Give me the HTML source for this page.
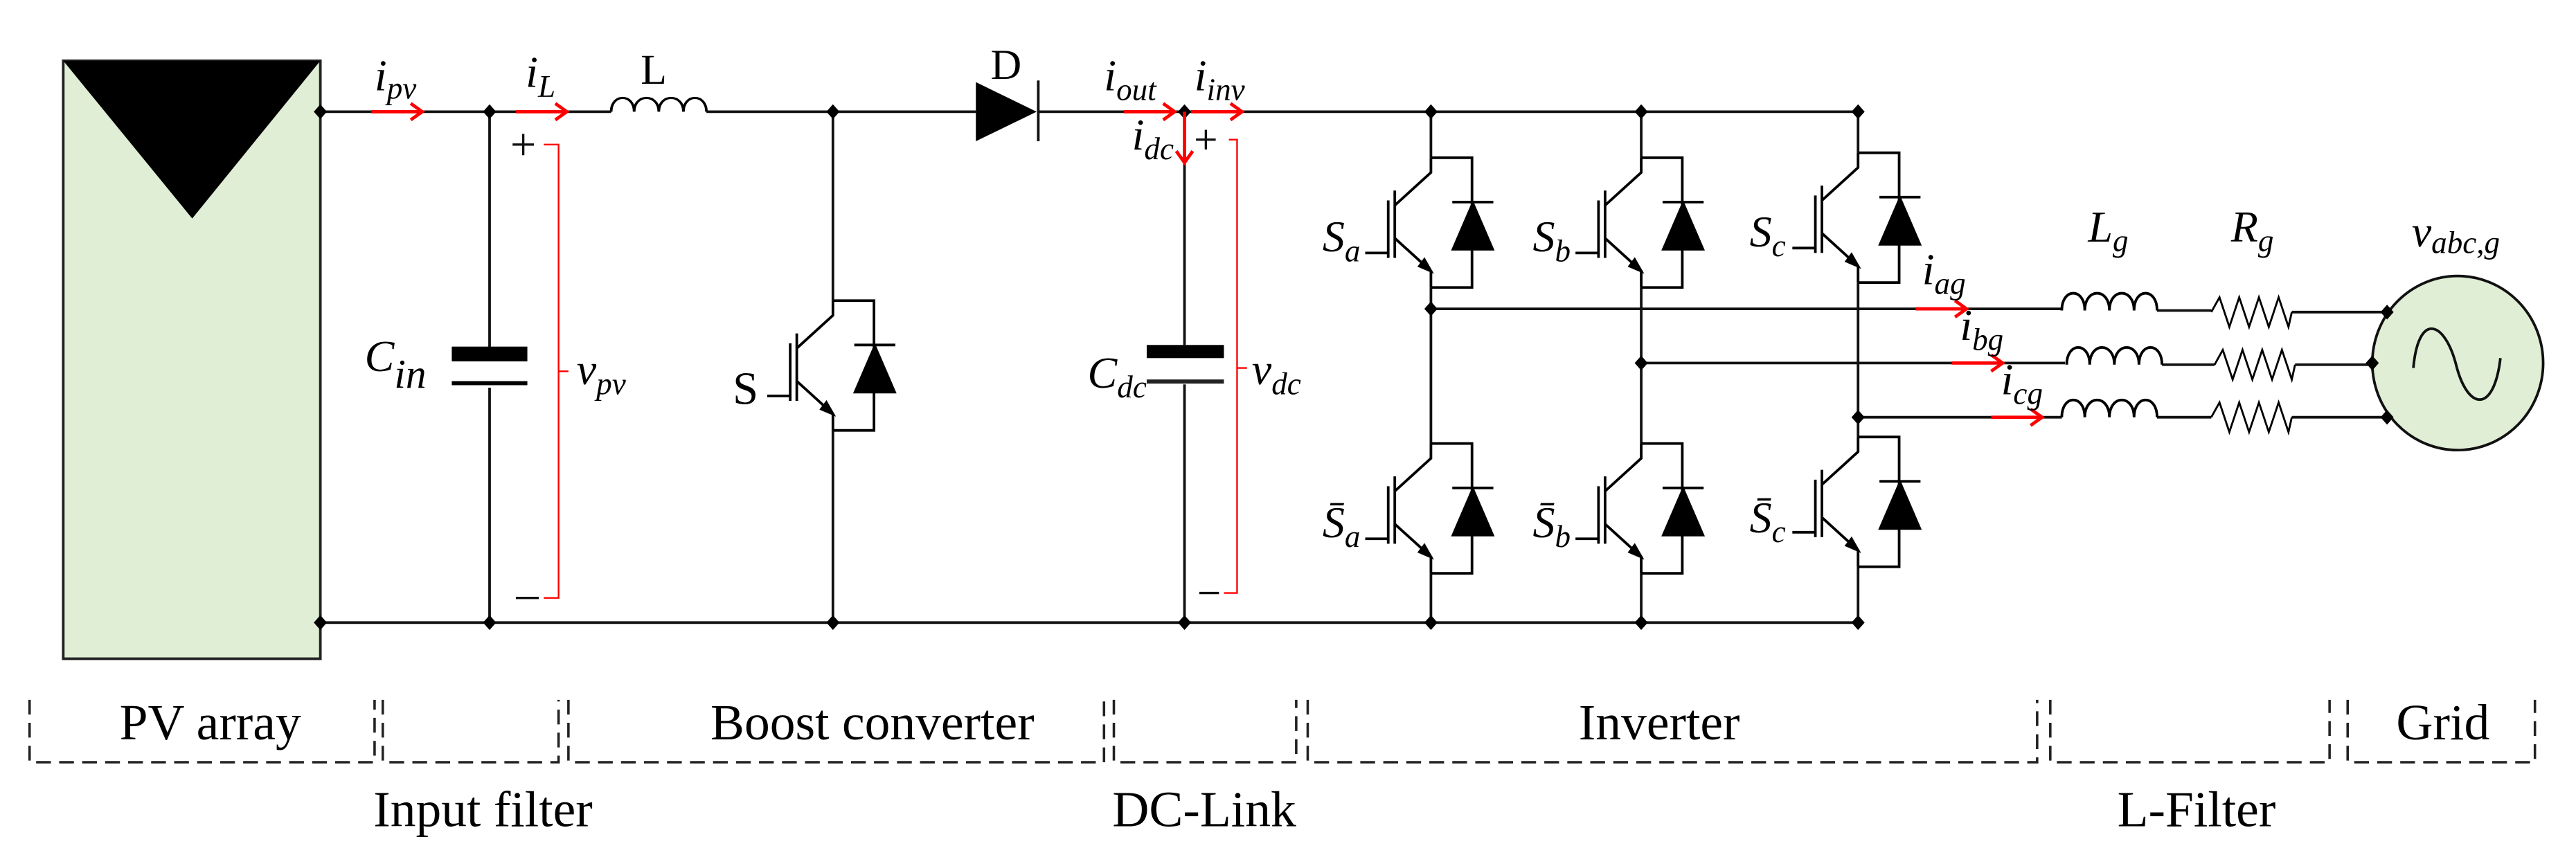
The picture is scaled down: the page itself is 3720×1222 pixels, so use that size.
<!DOCTYPE html>
<html><head><meta charset="utf-8"><style>
html,body{margin:0;padding:0;background:#fff;}
svg{display:block;}
.m{font-style:italic;font-size:27px;}
.s{font-size:19px;}
.lb{font-size:31px;}
</style></head><body>
<svg width="3720" height="1222" viewBox="0 0 1568 515" preserveAspectRatio="none" xmlns="http://www.w3.org/2000/svg" font-family="'Liberation Serif', 'DejaVu Serif', serif">
<defs>
<g id="sw" stroke="#000" stroke-width="1.6" fill="none">
  <path d="M0,0 H25 V79 H0"/>
  <path d="M0,0 V9 L-22,29"/>
  <path d="M-22,20 V61"/>
  <path d="M-26,26 V61 M-40,58 H-26"/>
  <path d="M-22,49 L0,69 V79"/>
  <path d="M-7,66 L0,69 L-4,62 Z" fill="#000"/>
  <path d="M13,27 H38" />
  <path d="M25.5,27 L13,56 H38 Z" fill="#000" stroke-width="1"/>
</g>
<g id="ind" stroke="#000" stroke-width="1.6" fill="none">
  <path d="M0,0 C0,-14 14,-14 14,0 C14,-14 29,-14 29,0 C29,-14 44,-14 44,0 C44,-14 58,-14 58,0"/>
</g>
<g id="res" stroke="#000" stroke-width="1.2" fill="none">
  <path d="M0,0 L5,-9 L11,9 L17,-9 L23,9 L29,-9 L35,9 L41,-9 L47,9 L49,0"/>
</g>
<g id="dot"><path d="M0,-4.5 L4,0 L0,4.5 L-4,0 Z" fill="#000"/></g>
<g id="ar" stroke="#f00" stroke-width="2" fill="none"><path d="M0,0 H31 M24,-5 L31,0 L24,5"/></g>
</defs>

<rect x="38.5" y="37" width="156.5" height="364" fill="#e0eed6" stroke="#222" stroke-width="1.6"/>
<path d="M38.5,37 H195 L117,133 Z" fill="#000"/>

<g stroke="#111" stroke-width="1.6" fill="none">
<path d="M195,68 H372 M430,68 H594 M632,68 H1133"/>
<path d="M195,379 H1131"/>
<path d="M298,68 V212 M298,236 V379"/>
<path d="M507,68 V183 M507,262 V379"/>
<path d="M721,68 V210 M721,234 V379"/>
<path d="M632,49 V86"/>
<path d="M871,68 V96 M871,175 V270 M871,349 V379"/>
<path d="M999,68 V96 M999,175 V270 M999,349 V379"/>
<path d="M1131,68 V93 M1131,172 V266 M1131,345 V379"/>
<path d="M871,188 H1255 M999,221 H1257 M1131,254 H1255"/>
<path d="M1313,189 H1346 M1395,190 H1453"/>
<path d="M1316,222 H1348 M1397,222 H1444"/>
<path d="M1313,254 H1346 M1395,254 H1453"/>
</g>
<path d="M594,50 L594,86 L631,68 Z" fill="#000"/>
<rect x="275" y="211" width="46" height="9" fill="#000"/>
<rect x="275" y="232" width="46" height="2.5" fill="#000"/>
<rect x="698" y="210" width="47" height="8" fill="#000"/>
<rect x="698" y="231" width="47" height="2.5" fill="#222"/>

<use href="#sw" transform="translate(507,183)"/>
<use href="#sw" transform="translate(871,96)"/>
<use href="#sw" transform="translate(871,270)"/>
<use href="#sw" transform="translate(999,96)"/>
<use href="#sw" transform="translate(999,270)"/>
<use href="#sw" transform="translate(1131,93)"/>
<use href="#sw" transform="translate(1131,266)"/>

<use href="#ind" transform="translate(372,68) scale(1,0.8)"/>
<use href="#ind" transform="translate(1255,189)"/>
<use href="#ind" transform="translate(1258,222)"/>
<use href="#ind" transform="translate(1255,254)"/>
<use href="#res" transform="translate(1346,190)"/>
<use href="#res" transform="translate(1348,222)"/>
<use href="#res" transform="translate(1346,254)"/>

<ellipse cx="1496" cy="221" rx="52" ry="53" fill="#e0eed6" stroke="#111" stroke-width="1.6"/>
<path d="M1469,224 C1472,190 1488,195 1495,222 C1502,250 1518,252 1522,218" fill="none" stroke="#111" stroke-width="1.6"/>

<use href="#dot" x="195" y="68"/><use href="#dot" x="298" y="68"/><use href="#dot" x="507" y="68"/>
<use href="#dot" x="721" y="68"/><use href="#dot" x="871" y="68"/><use href="#dot" x="999" y="68"/><use href="#dot" x="1131" y="68"/>
<use href="#dot" x="195" y="379"/><use href="#dot" x="298" y="379"/><use href="#dot" x="507" y="379"/>
<use href="#dot" x="721" y="379"/><use href="#dot" x="871" y="379"/><use href="#dot" x="999" y="379"/><use href="#dot" x="1131" y="379"/>
<use href="#dot" x="871" y="188"/><use href="#dot" x="999" y="221"/><use href="#dot" x="1131" y="254"/>
<use href="#dot" x="1453" y="190"/><use href="#dot" x="1444" y="221"/><use href="#dot" x="1453" y="254"/>

<use href="#ar" transform="translate(226,68)"/>
<use href="#ar" transform="translate(314,68)"/>
<use href="#ar" transform="translate(684,68)"/>
<use href="#ar" transform="translate(725,68)"/>
<use href="#ar" transform="translate(721,68) rotate(90)"/>
<use href="#ar" transform="translate(1166,188)"/>
<use href="#ar" transform="translate(1188,221)"/>
<use href="#ar" transform="translate(1212,254)"/>

<g stroke="#f00" stroke-width="1" fill="none">
<path d="M331,88 H340 V364 H331 M340,226 H346"/>
<path d="M748,85 H753 V361 H745 M753,224 H759"/>
</g>
<g stroke="#111" stroke-width="1.4">
<path d="M312,88 H325 M318.5,81.5 V94.5 M314,364 H328"/>
<path d="M728,85 H740 M734,79 V91 M730,361 H742"/>
</g>

<text class="m" x="228" y="55">i<tspan class="s" dy="5">pv</tspan></text>
<text class="m" x="320" y="53">i<tspan class="s" dy="6">L</tspan></text>
<text x="390" y="51" font-size="26">L</text>
<text x="603" y="48" font-size="26">D</text>
<text class="m" x="672" y="55">i<tspan class="s" dy="6">out</tspan></text>
<text class="m" x="727" y="55">i<tspan class="s" dy="6">inv</tspan></text>
<text class="m" x="689" y="91">i<tspan class="s" dy="6">dc</tspan></text>
<text class="m" x="222" y="226" font-size="31">C<tspan dy="10" font-size="25">in</tspan></text>
<text class="m" x="351" y="234">v<tspan class="s" dy="6">pv</tspan></text>
<text x="446" y="246" font-size="28">S</text>
<text class="m" x="662" y="236">C<tspan class="s" dy="6">dc</tspan></text>
<text class="m" x="762" y="234">v<tspan class="s" dy="6">dc</tspan></text>
<text class="m" x="805" y="153">S<tspan class="s" dy="6">a</tspan></text>
<text class="m" x="933" y="153">S<tspan class="s" dy="6">b</tspan></text>
<text class="m" x="1065" y="150">S<tspan class="s" dy="6">c</tspan></text>
<text class="m" x="805" y="327">S̄<tspan class="s" dy="6">a</tspan></text>
<text class="m" x="933" y="327">S̄<tspan class="s" dy="6">b</tspan></text>
<text class="m" x="1065" y="324">S̄<tspan class="s" dy="6">c</tspan></text>
<text class="m" x="1170" y="173">i<tspan class="s" dy="6">ag</tspan></text>
<text class="m" x="1193" y="207">i<tspan class="s" dy="6">bg</tspan></text>
<text class="m" x="1218" y="240">i<tspan class="s" dy="6">cg</tspan></text>
<text class="m" x="1271" y="147">L<tspan class="s" dy="6">g</tspan></text>
<text class="m" x="1358" y="147">R<tspan class="s" dy="6">g</tspan></text>
<text class="m" x="1468" y="150">v<tspan class="s" dy="4">abc,g</tspan></text>

<g stroke="#222" stroke-width="1.5" fill="none" stroke-dasharray="9,5">
<path d="M18,426 V464 H228 V426"/>
<path d="M233,426 V464 H340 V426"/>
<path d="M346,426 V464 H672 V426"/>
<path d="M678,426 V464 H789 V426"/>
<path d="M796,426 V464 H1240 V426"/>
<path d="M1248,426 V464 H1418 V426"/>
<path d="M1429,426 V464 H1543 V426"/>
</g>
<g text-anchor="middle">
<text class="lb" x="128" y="450">PV array</text>
<text class="lb" x="531" y="450">Boost converter</text>
<text class="lb" x="1010" y="450">Inverter</text>
<text class="lb" x="1487" y="450">Grid</text>
<text class="lb" x="294" y="503">Input filter</text>
<text class="lb" x="733" y="503">DC-Link</text>
<text class="lb" x="1337" y="503">L-Filter</text>
</g>
</svg>
</body></html>
